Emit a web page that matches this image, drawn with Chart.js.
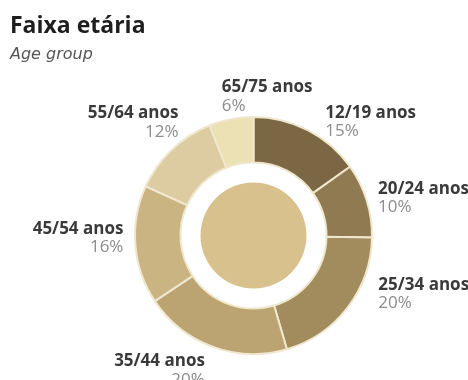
<!DOCTYPE html>
<html>
<head>
<meta charset="utf-8">
<script src="https://cdn.jsdelivr.net/npm/chart.js@4.4.1/dist/chart.umd.min.js"></script>
<style>
  html, body { margin: 0; padding: 0; background: #fff; }
  #wrap { position: relative; width: 468px; height: 380px; }
  #faixa { position: absolute; left: 0; top: 0; }
  .head { position: absolute; left: 10px; white-space: nowrap; }
  #title { top: 8px; font-family: "Open Sans", sans-serif; font-size: 23px; font-weight: bold; color: #1e1e1e; }
  #subtitle { top: 44px; font-family: "DejaVu Sans", sans-serif; font-size: 16px; font-style: italic; color: #555; }
</style>
</head>
<body>
<div id="wrap">
  <canvas id="faixa" width="468" height="380"></canvas>
  <div class="head" id="title">Faixa etária</div>
  <div class="head" id="subtitle">Age group</div>
</div>
<script>
// age bands, clockwise from 12 o'clock
const ageGroups = ['12/19 anos', '20/24 anos', '25/34 anos', '35/44 anos', '45/54 anos', '55/64 anos', '65/75 anos'];
const sharePct = [15, 10, 20, 20, 16, 12, 6];
const bandColors = ['#7c6744', '#8f7a52', '#a28c5e', '#bba372', '#cab582', '#ddcca1', '#ece1b5'];

// hand tweaks for the callouts, [dx, dy] from the point just outside each slice
const labelNudge = [[12, -2], [0, -3], [21, -25], [-4, 8], [0, -12], [15, -23], [-7, -15]];

const calloutPlugin = {
    id: 'callouts',
    afterDatasetsDraw: function(chart) {
        const ctx = chart.ctx;
        const arcs = chart.getDatasetMeta(0).data;
        ctx.save();
        arcs.forEach(function(arc, i) {
            const p = arc.getProps(['x', 'y', 'startAngle', 'endAngle', 'outerRadius'], true);
            const mid = (p.startAngle + p.endAngle) / 2;
            const r = p.outerRadius + 12;
            const x = p.x + Math.cos(mid) * r + labelNudge[i][0];
            const y = p.y + Math.sin(mid) * r + labelNudge[i][1];
            // right half (and the little slice at the top) reads left-aligned
            ctx.textAlign = Math.cos(mid) > -0.3 ? 'left' : 'right';
            ctx.textBaseline = 'alphabetic';
            ctx.fillStyle = '#3a3a3a';
            ctx.font = 'bold 17px "Open Sans"';
            ctx.fillText(ageGroups[i], x, y);
            ctx.fillStyle = '#8c8c8c';
            ctx.font = '17px "Open Sans"';
            ctx.fillText(sharePct[i] + '%', x, y + 18.5);
        });
        ctx.restore();
    }
};

const faixaChart = new Chart(document.getElementById('faixa'), {
    type: 'doughnut',
    data: {
        labels: ageGroups,
        datasets: [{
            data: sharePct,
            backgroundColor: bandColors,
            borderColor: '#efe8cf',
            borderWidth: 2,
            weight: 45.5,
        },
        {
            // white gap between ring and centre disc
            data: [1],
            backgroundColor: 'rgba(0,0,0,0)',
            borderWidth: 0,
            weight: 20,
        },
        {
            data: [1],
            backgroundColor: '#d8c18d',
            borderWidth: 0,
            weight: 53,
        }],
    },
    options: {
        responsive: false,
        animation: false,
        events: [],
        cutout: 0,
        layout: {
            padding: { left: 134, right: 95, top: 116, bottom: 25 }
        },
        plugins: {
            legend: { display: false },
            tooltip: { enabled: false },
        },
    },
    plugins: [calloutPlugin],
});
</script>
</body>
</html>
